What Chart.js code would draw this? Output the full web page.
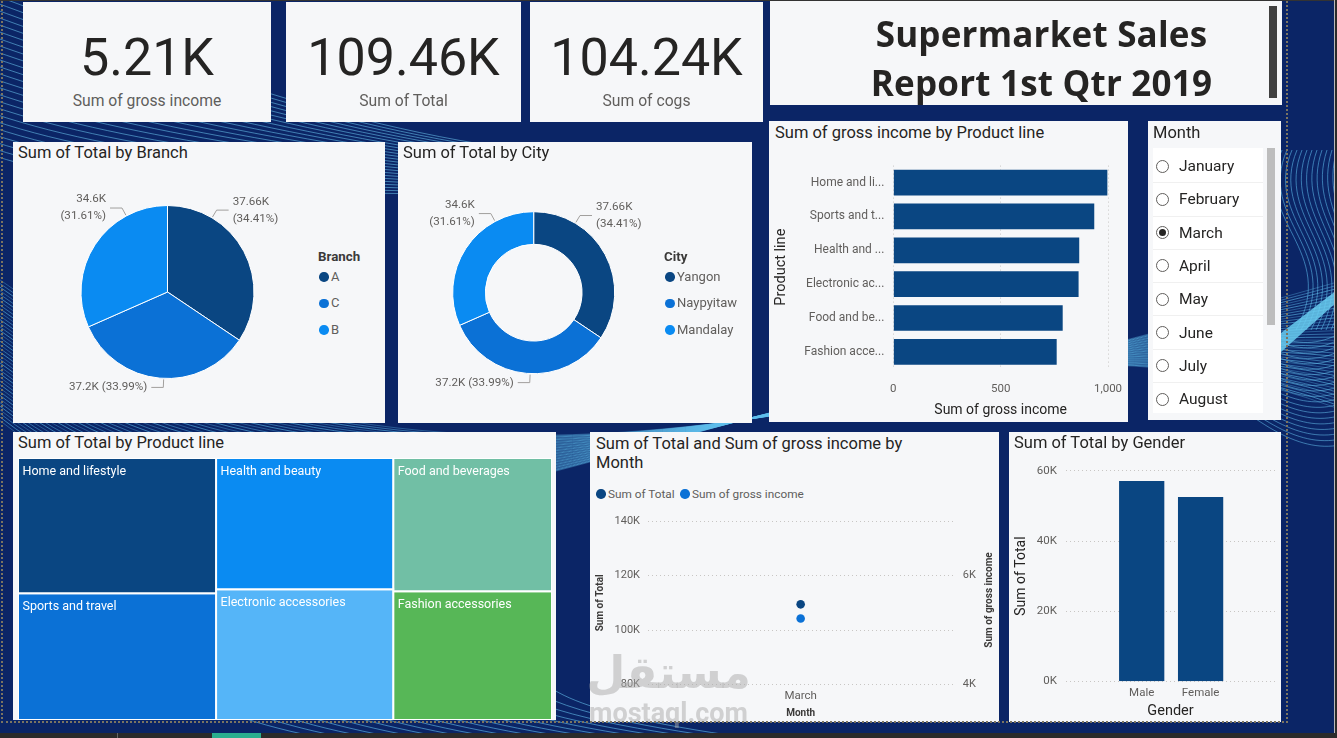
<!DOCTYPE html>
<html lang="en">
<head>
<meta charset="utf-8">
<title>Supermarket Sales Report 1st Qtr 2019</title>
<script src="https://cdn.jsdelivr.net/npm/chart.js@4.4.1/dist/chart.umd.min.js"></script>
<style>
  html, body { margin: 0; padding: 0; }
  body { width: 1337px; height: 738px; overflow: hidden; position: relative; background: #0b2566;
         font-family: Roboto, "Open Sans", sans-serif; color: #252423; }
  #bg { position: absolute; left: 0; top: 0; }
  .panel { position: absolute; background: #f6f7f9; }
  .ptitle { position: absolute; left: 5px; top: 1px; font-size: 16.5px; line-height: 20px; white-space: nowrap; color: #252423; }
  .kpi-val { position: absolute; left: 0; right: 0; top: 26px; text-align: center; font-size: 52px; line-height: 60px; color: #252423; }
  .kpi-lab { position: absolute; left: 0; right: 0; top: 89px; text-align: center; font-size: 15.7px; line-height: 20px; color: #605e5c; }
  canvas.chart { position: absolute; }
  .lg { position: absolute; white-space: nowrap; line-height: 16px; }
  .lg-title { font-size: 13.3px; font-weight: bold; color: #3b3a39; }
  .lg-item { font-size: 13px; color: #605e5c; }
  .dot { position: absolute; width: 9.5px; height: 9.5px; border-radius: 50%; }
  .slicer-list { position: absolute; left: 5px; top: 27px; width: 110px; height: 265px; background: #ffffff; overflow: hidden; }
  .sl-item { position: absolute; left: 0; width: 110px; height: 33.3px; border-bottom: 1px solid #f0f0f0; box-sizing: border-box; }
  .radio { position: absolute; left: 2.5px; width: 11px; height: 11px; border: 1.2px solid #605e5c; border-radius: 50%; background: #fff; }
  .radio.on::after { content: ""; position: absolute; left: 2px; top: 2px; width: 7px; height: 7px; border-radius: 50%; background: #252423; }
  .sl-text { position: absolute; left: 26px; font-size: 15.5px; line-height: 20px; color: #252423; }
</style>
</head>
<body>
<canvas id="bg" width="1337" height="738"></canvas>

<!-- KPI cards -->
<div class="panel" id="k0" style="left:23px;top:2px;width:248px;height:120px"></div>
<div class="panel" id="k1" style="left:286px;top:2px;width:235px;height:120px"></div>
<div class="panel" id="k2" style="left:530px;top:2px;width:233px;height:120px"></div>

<!-- report title -->
<div class="panel" style="left:770px;top:1px;width:512px;height:104px">
  <div style="position:absolute;left:0;top:9px;width:543px;text-align:center;font-family:'Open Sans',sans-serif;font-weight:bold;font-size:35px;line-height:48.5px;letter-spacing:0.2px;color:#252423;white-space:nowrap">Supermarket Sales<br>Report 1st Qtr 2019</div>
  <div style="position:absolute;left:499px;top:5px;width:8px;height:92px;background:#404040"></div>
</div>

<div class="panel" style="left:13px;top:142px;width:372px;height:281px"><div class="ptitle">Sum of Total by Branch</div></div>
<div class="panel" style="left:398px;top:142px;width:354px;height:281px"><div class="ptitle">Sum of Total by City</div></div>
<div class="panel" style="left:769px;top:121px;width:359px;height:301px"><div class="ptitle" style="top:2px;left:6px">Sum of gross income by Product line</div></div>
<div class="panel" id="slicer" style="left:1148px;top:121px;width:133px;height:299px"><div class="ptitle" style="top:2px">Month</div></div>
<div class="panel" style="left:13px;top:432px;width:543px;height:288px"><div class="ptitle">Sum of Total by Product line</div></div>
<div class="panel" style="left:590px;top:432px;width:409px;height:290px"><div class="ptitle" style="left:6px;line-height:19.3px;top:1.5px">Sum of Total and Sum of gross income by<br>Month</div></div>
<div class="panel" style="left:1009px;top:432px;width:272px;height:290px"><div class="ptitle">Sum of Total by Gender</div></div>

<canvas class="chart" id="cBranch" width="290" height="258" style="left:13px;top:165px"></canvas>
<canvas class="chart" id="cCity" width="260" height="258" style="left:398px;top:165px"></canvas>
<canvas class="chart" id="cProduct" width="359" height="277" style="left:769px;top:145px"></canvas>
<canvas class="chart" id="cTree" width="534" height="262" style="left:18px;top:458px"></canvas>
<canvas class="chart" id="cCombo" width="409" height="217" style="left:590px;top:505px"></canvas>
<canvas class="chart" id="cGender" width="272" height="267" style="left:1009px;top:455px"></canvas>

<div id="legends"></div>
<div style="position:absolute;left:929px;top:593px;width:120px;height:14px;line-height:14px;text-align:center;font-size:10px;font-weight:bold;color:#3b3a39;transform:rotate(-90deg);white-space:nowrap">Sum of gross income</div>

<!-- watermark -->
<div style="position:absolute;left:586px;top:645px;width:165px;text-align:center;pointer-events:none;color:rgba(170,170,170,0.5);font-weight:bold;white-space:nowrap">
  <div style="font-family:'DejaVu Sans',sans-serif;font-size:45px;line-height:56px">مستقل</div>
  <div style="font-family:Roboto,sans-serif;font-size:27px;line-height:24px">mostaql.com</div>
</div>

<!-- page frame -->
<div style="position:absolute;left:1px;top:-4px;width:1287px;height:727px;border:2px dotted #7b7461;box-sizing:border-box;pointer-events:none"></div>
<div style="position:absolute;left:0;top:0;width:1337px;height:1px;background:#333"></div>
<div style="position:absolute;left:1334px;top:0;width:1px;height:738px;background:#b8b8b8"></div>
<div style="position:absolute;left:1335px;top:0;width:2px;height:738px;background:#2b2b2b"></div>
<div style="position:absolute;left:0;top:733px;width:1337px;height:5px;background:#2b2b2b"></div>
<div style="position:absolute;left:117px;top:733px;width:1px;height:5px;background:#666"></div>
<div style="position:absolute;left:212px;top:733px;width:49px;height:5px;background:#2bae8e"></div>

<script>
// ---------- data ----------
const kpiLabels = ['Sum of gross income', 'Sum of Total', 'Sum of cogs'];
const kpiValues = [5212.2, 109456, 104243.8];

const branches = ['A', 'C', 'B'];
const branchTotals = [37660, 37200, 34596];

const cities = ['Yangon', 'Naypyitaw', 'Mandalay'];
const cityTotals = [37660, 37200, 34596];

const productLines = ['Home and lifestyle', 'Sports and travel', 'Health and beauty',
  'Electronic accessories', 'Food and beverages', 'Fashion accessories'];
const productTicks = ['Home and li...', 'Sports and t...', 'Health and ...',
  'Electronic ac...', 'Food and be...', 'Fashion acce...'];
const productGross = [997, 936, 866, 863, 789, 761];
const productTotals = [20937, 19656, 18186, 18123, 16569, 15981];

const months = ['March'];
const monthTotal = [109456];
const monthGross = [5212.2];

const genders = ['Male', 'Female'];
const genderTotals = [57000, 52456];

const slicerMonths = ['January', 'February', 'March', 'April', 'May', 'June', 'July', 'August'];
const selectedMonth = 'March';

// ---------- colours ----------
const navy = '#0a4682';
const pieColors = ['#0a4682', '#0b71d6', '#0a8bf2'];
const treeColors = ['#0a4682', '#0b71d6', '#0a8bf2', '#55b5f8', '#71bfa5', '#57b757'];
const grid = '#c8c6c4';

Chart.defaults.font.family = 'Roboto, "Open Sans", sans-serif';
Chart.defaults.color = '#605e5c';
Chart.defaults.animation = false;
Chart.defaults.responsive = false;
Chart.defaults.plugins.legend.display = false;
Chart.defaults.plugins.tooltip.enabled = false;

const fmtK = v => (v / 1000).toFixed(2).replace(/\.?0+$/, '') + 'K';

// ---------- backdrop ----------
function drawBackdrop() {
  const g = document.getElementById('bg').getContext('2d');
  g.fillStyle = '#0b2566';
  g.fillRect(0, 0, 1337, 738);
  g.lineWidth = 1;
  for (let i = 0; i < 40; i++) {
    g.strokeStyle = 'rgba(95,190,235,' + (0.35 + (i % 3) * 0.12) + ')';
    g.beginPath();
    g.moveTo(-40, 250 + i * 3.5);
    g.bezierCurveTo(350, 560 + i * 5, 850, 420 - i * 6, 1380, 270 + i * 4);
    g.stroke();
  }
  for (let i = 0; i < 24; i++) {
    g.strokeStyle = 'rgba(110,200,240,0.55)';
    g.beginPath();
    g.moveTo(-20, -10 + i * 7);
    g.bezierCurveTo(120, 40 + i * 7, 300, 120 + i * 3, 520, 150 + i * 2);
    g.stroke();
  }
  for (let i = 0; i < 14; i++) {
    g.strokeStyle = 'rgba(90,180,230,0.6)';
    g.beginPath();
    g.moveTo(1282 + i * 5, 150);
    g.bezierCurveTo(1250 + i * 6, 220, 1340 + i * 4, 250, 1296 + i * 5, 330);
    g.stroke();
  }
  for (let i = 0; i < 20; i++) {
    g.strokeStyle = 'rgba(100,190,235,0.55)';
    g.beginPath();
    g.moveTo(1200, 300 + i * 4);
    g.bezierCurveTo(1260, 330 + i * 5, 1300, 360 + i * 5, 1345, 330 + i * 6);
    g.stroke();
  }
  for (let i = 0; i < 18; i++) {
    g.strokeStyle = 'rgba(100,190,235,0.6)';
    g.beginPath();
    g.moveTo(180 + i * 22, 690);
    g.bezierCurveTo(230 + i * 22, 720, 300 + i * 25, 735, 360 + i * 26, 745);
    g.stroke();
  }
  g.fillStyle = 'rgba(105,205,240,0.85)';
  g.beginPath();
  g.moveTo(1281, 333); g.lineTo(1337, 290); g.lineTo(1337, 302); g.lineTo(1281, 352);
  g.closePath(); g.fill();
}
drawBackdrop();

// ---------- KPI cards ----------
kpiValues.forEach((v, i) => {
  const el = document.getElementById('k' + i);
  el.innerHTML = '<div class="kpi-val">' + (v / 1000).toFixed(2) + 'K</div><div class="kpi-lab">' + kpiLabels[i] + '</div>';
});

// ---------- HTML legends ----------
function legend(title, labels, colors, x, y0) {
  let html = '<div class="lg lg-title" style="left:' + x + 'px;top:' + (y0 - 8) + 'px">' + title + '</div>';
  labels.forEach((l, i) => {
    const y = y0 + 20.3 + i * 26.4;
    html += '<div class="dot" style="left:' + (x + 1.4) + 'px;top:' + (y - 4.75) + 'px;background:' + colors[i] + '"></div>';
    html += '<div class="lg lg-item" style="left:' + (x + 13) + 'px;top:' + (y - 8) + 'px">' + l + '</div>';
  });
  return html;
}
let lgHtml = legend('Branch', branches, pieColors, 318, 256.7) + legend('City', cities, pieColors, 664, 256.7);
lgHtml += '<div class="dot" style="left:596px;top:489px;background:' + navy + '"></div>';
lgHtml += '<div class="lg" style="left:608px;top:485.7px;font-size:11.8px;color:#605e5c">Sum of Total</div>';
lgHtml += '<div class="dot" style="left:680px;top:489px;background:#0b71d6"></div>';
lgHtml += '<div class="lg" style="left:692px;top:485.7px;font-size:11.8px;color:#605e5c">Sum of gross income</div>';
document.getElementById('legends').innerHTML = lgHtml;

// ---------- month slicer ----------
(function () {
  let html = '<div class="slicer-list">';
  slicerMonths.forEach((m, i) => {
    const top = 2 + i * 33.3;
    html += '<div class="sl-item" style="top:' + top + 'px">' +
      '<div class="radio' + (m === selectedMonth ? ' on' : '') + '" style="top:9.5px"></div>' +
      '<div class="sl-text" style="top:6px">' + m + '</div></div>';
  });
  html += '</div><div style="position:absolute;left:119px;top:27px;width:8px;height:177px;background:#bdbdbd"></div>';
  document.getElementById('slicer').insertAdjacentHTML('beforeend', html);
})();

// ---------- pie / donut outside labels ----------
const sliceLabels = {
  id: 'sliceLabels',
  afterDatasetsDraw(chart) {
    const ctx = chart.ctx;
    const meta = chart.getDatasetMeta(0);
    const vals = chart.data.datasets[0].data;
    const sum = vals.reduce((a, b) => a + b, 0);
    ctx.save();
    ctx.font = '11.6px Roboto';
    ctx.fillStyle = '#605e5c';
    ctx.strokeStyle = '#a19f9d';
    ctx.lineWidth = 1;
    meta.data.forEach((arc, i) => {
      let t = (arc.startAngle + arc.endAngle) / 2 + Math.PI / 2;
      while (t > Math.PI) t -= 2 * Math.PI;
      while (t < -Math.PI) t += 2 * Math.PI;
      // labels are pulled toward the nearest vertical, as the report does
      if (Math.abs(t) <= Math.PI / 2) t *= 0.5;
      else t = Math.sign(t) * (Math.PI - (Math.PI - Math.abs(t)) * 0.5);
      const r = arc.outerRadius;
      const sx = Math.sin(t), cy = -Math.cos(t);
      const ax = arc.x + (r + 1) * sx, ay = arc.y + (r + 1) * cy;
      const ex = arc.x + (r + 9) * sx, ey = arc.y + (r + 9) * cy;
      const dir = sx >= 0 ? 1 : -1;
      const hx = ex + dir * 12;
      ctx.beginPath();
      ctx.moveTo(ax, ay); ctx.lineTo(ex, ey); ctx.lineTo(hx, ey);
      ctx.stroke();
      const vTxt = fmtK(vals[i]);
      const pTxt = '(' + (vals[i] / sum * 100).toFixed(2) + '%)';
      ctx.textAlign = dir > 0 ? 'left' : 'right';
      ctx.textBaseline = 'middle';
      const tx = hx + dir * 4;
      if (Math.abs(cy) > 0.9) {
        ctx.fillText(vTxt + ' ' + pTxt, tx, ey);
      } else {
        ctx.fillText(vTxt, tx, ey - 8.5);
        ctx.fillText(pTxt, tx, ey + 8.5);
      }
    });
    ctx.restore();
  }
};

new Chart(document.getElementById('cBranch'), {
  type: 'pie',
  data: { labels: branches, datasets: [{ data: branchTotals, backgroundColor: pieColors, borderColor: '#ffffff', borderWidth: 1 }] },
  options: { layout: { padding: { left: 67.5, right: 48.5, top: 40, bottom: 44 } } },
  plugins: [sliceLabels]
});

new Chart(document.getElementById('cCity'), {
  type: 'doughnut',
  data: { labels: cities, datasets: [{ data: cityTotals, backgroundColor: pieColors, borderColor: '#ffffff', borderWidth: 1 }] },
  options: { cutout: '59.7%', layout: { padding: { left: 54.2, right: 42.8, top: 46.2, bottom: 48.8 } } },
  plugins: [sliceLabels]
});

// ---------- gross income by product line ----------
new Chart(document.getElementById('cProduct'), {
  type: 'bar',
  data: { labels: productTicks, datasets: [{ data: productGross, backgroundColor: navy, barPercentage: 0.76, categoryPercentage: 1 }] },
  options: {
    indexAxis: 'y',
    layout: { padding: { left: 0, right: 20, top: 20.6, bottom: 0 } },
    scales: {
      x: {
        min: 0, max: 1000,
        afterFit: s => { s.height = 53.2; s.paddingRight = 0; },
        ticks: { stepSize: 500, padding: 13.5, font: { size: 11.5 }, callback: v => v.toLocaleString('en-US') },
        grid: { color: grid, drawTicks: false },
        border: { display: false, dash: [1, 3] },
        title: { display: true, text: 'Sum of gross income', color: '#252423', font: { size: 14 }, padding: { top: 0, bottom: 3.5 } }
      },
      y: {
        afterFit: s => { s.width = 124.3; },
        ticks: { padding: 9, font: { size: 12 } },
        grid: { display: false, drawTicks: false },
        border: { display: false },
        title: { display: true, text: 'Product line', color: '#252423', font: { size: 14.5 }, padding: { top: 4, bottom: 0 } }
      }
    }
  }
});

// ---------- treemap of total by product line ----------
function treeLayout(vals) {
  const cells = [];
  let x0 = 0;
  for (let i = 0; i < vals.length; i += 2) {
    const col = vals.slice(i, i + 2);
    const cs = col.reduce((a, b) => a + b, 0);
    let y0 = 0;
    col.forEach((v, j) => {
      const h = v / cs;
      cells.push({ i: i + j, x0: x0, x1: x0 + cs, y0: y0, y1: y0 + h });
      y0 += h;
    });
    x0 += cs;
  }
  return cells;
}
const treeCells = treeLayout(productTotals);
const treeSum = productTotals.reduce((a, b) => a + b, 0);

const treeLabels = {
  id: 'treeLabels',
  afterDatasetsDraw(chart) {
    const { ctx, scales: { x, y } } = chart;
    ctx.save();
    ctx.font = '12.5px Roboto';
    ctx.fillStyle = '#ffffff';
    ctx.textBaseline = 'middle';
    chart.data.datasets.forEach(ds => {
      const p = ds.data[0];
      ctx.fillText(ds.label, x.getPixelForValue(p.x) + 4.5, y.getPixelForValue(p.y) + 14);
    });
    ctx.restore();
  }
};

new Chart(document.getElementById('cTree'), {
  type: 'scatter',
  data: {
    datasets: treeCells.map(c => ({
      label: productLines[c.i],
      data: [{ x: c.x0, y: c.y0 }, { x: c.x1, y: c.y0 }, { x: c.x1, y: c.y1 }, { x: c.x0, y: c.y1 }, { x: c.x0, y: c.y0 }],
      showLine: true, fill: 'shape', tension: 0,
      backgroundColor: treeColors[c.i], borderColor: '#ffffff', borderWidth: 2, pointRadius: 0
    }))
  },
  options: {
    layout: { padding: 0 },
    scales: {
      x: { type: 'linear', display: false, min: 0, max: treeSum },
      y: { type: 'linear', display: false, min: 0, max: 1, reverse: true }
    }
  },
  plugins: [treeLabels]
});

// ---------- total and gross income by month ----------
new Chart(document.getElementById('cCombo'), {
  type: 'line',
  data: {
    labels: months,
    datasets: [
      { label: 'Sum of Total', data: monthTotal, yAxisID: 'y', showLine: false, pointRadius: 4.3, pointBackgroundColor: navy, pointBorderWidth: 0 },
      { label: 'Sum of gross income', data: monthGross, yAxisID: 'y1', showLine: false, pointRadius: 4.3, pointBackgroundColor: '#0b71d6', pointBorderWidth: 0 }
    ]
  },
  options: {
    layout: { padding: { top: 11.3, left: 0, right: 0, bottom: 0 } },
    scales: {
      x: {
        offset: true,
        afterFit: s => { s.height = 37.3; },
        grid: { display: false, drawTicks: false },
        border: { display: false },
        ticks: { padding: 4.5, font: { size: 11.5 } },
        title: { display: true, text: 'Month', color: '#3b3a39', font: { size: 10, weight: 'bold' }, padding: { top: 0, bottom: 2.5 } }
      },
      y: {
        position: 'left', min: 80000, max: 140000,
        afterFit: s => { s.width = 58; },
        ticks: { stepSize: 20000, padding: 8, font: { size: 11 }, callback: v => v / 1000 + 'K' },
        grid: { color: grid, drawTicks: false },
        border: { display: false, dash: [1, 3] },
        title: { display: true, text: 'Sum of Total', color: '#3b3a39', font: { size: 10, weight: 'bold' }, padding: { top: 4.5, bottom: 0 } }
      },
      y1: {
        position: 'right', min: 4000, max: 7000,
        afterFit: s => { s.width = 45.7; },
        afterBuildTicks: s => { s.ticks = [{ value: 4000 }, { value: 6000 }]; },
        ticks: { padding: 9.4, font: { size: 11 }, callback: v => v / 1000 + 'K' },
        grid: { drawOnChartArea: false, drawTicks: false },
        border: { display: false }
      }
    }
  }
});

// ---------- total by gender ----------
new Chart(document.getElementById('cGender'), {
  type: 'bar',
  data: { datasets: [{ data: genders.map((g, i) => ({ x: i, y: genderTotals[i] })), backgroundColor: navy, barThickness: 44.6 }] },
  options: {
    layout: { padding: { left: 0, right: 6, top: 12.3, bottom: 0 } },
    scales: {
      x: {
        type: 'linear', min: -1.285, max: 2.263, offset: false,
        afterFit: s => { s.height = 40.7; },
        afterBuildTicks: s => { s.ticks = genders.map((g, i) => ({ value: i })); },
        ticks: { padding: 4.5, font: { size: 11.5 }, callback: v => genders[v] },
        grid: { display: false, drawTicks: false },
        border: { display: false },
        title: { display: true, text: 'Gender', color: '#252423', font: { size: 14.5 }, padding: { top: 0, bottom: 1.7 } }
      },
      y: {
        min: 0, max: 60000,
        afterFit: s => { s.width = 57; },
        ticks: { stepSize: 20000, padding: 9, font: { size: 11.5 }, callback: v => v / 1000 + 'K' },
        grid: { color: grid, drawTicks: false },
        border: { display: false, dash: [1, 3] },
        title: { display: true, text: 'Sum of Total', color: '#252423', font: { size: 14 }, padding: { top: 4.4, bottom: 0 } }
      }
    }
  }
});
</script>
</body>
</html>
